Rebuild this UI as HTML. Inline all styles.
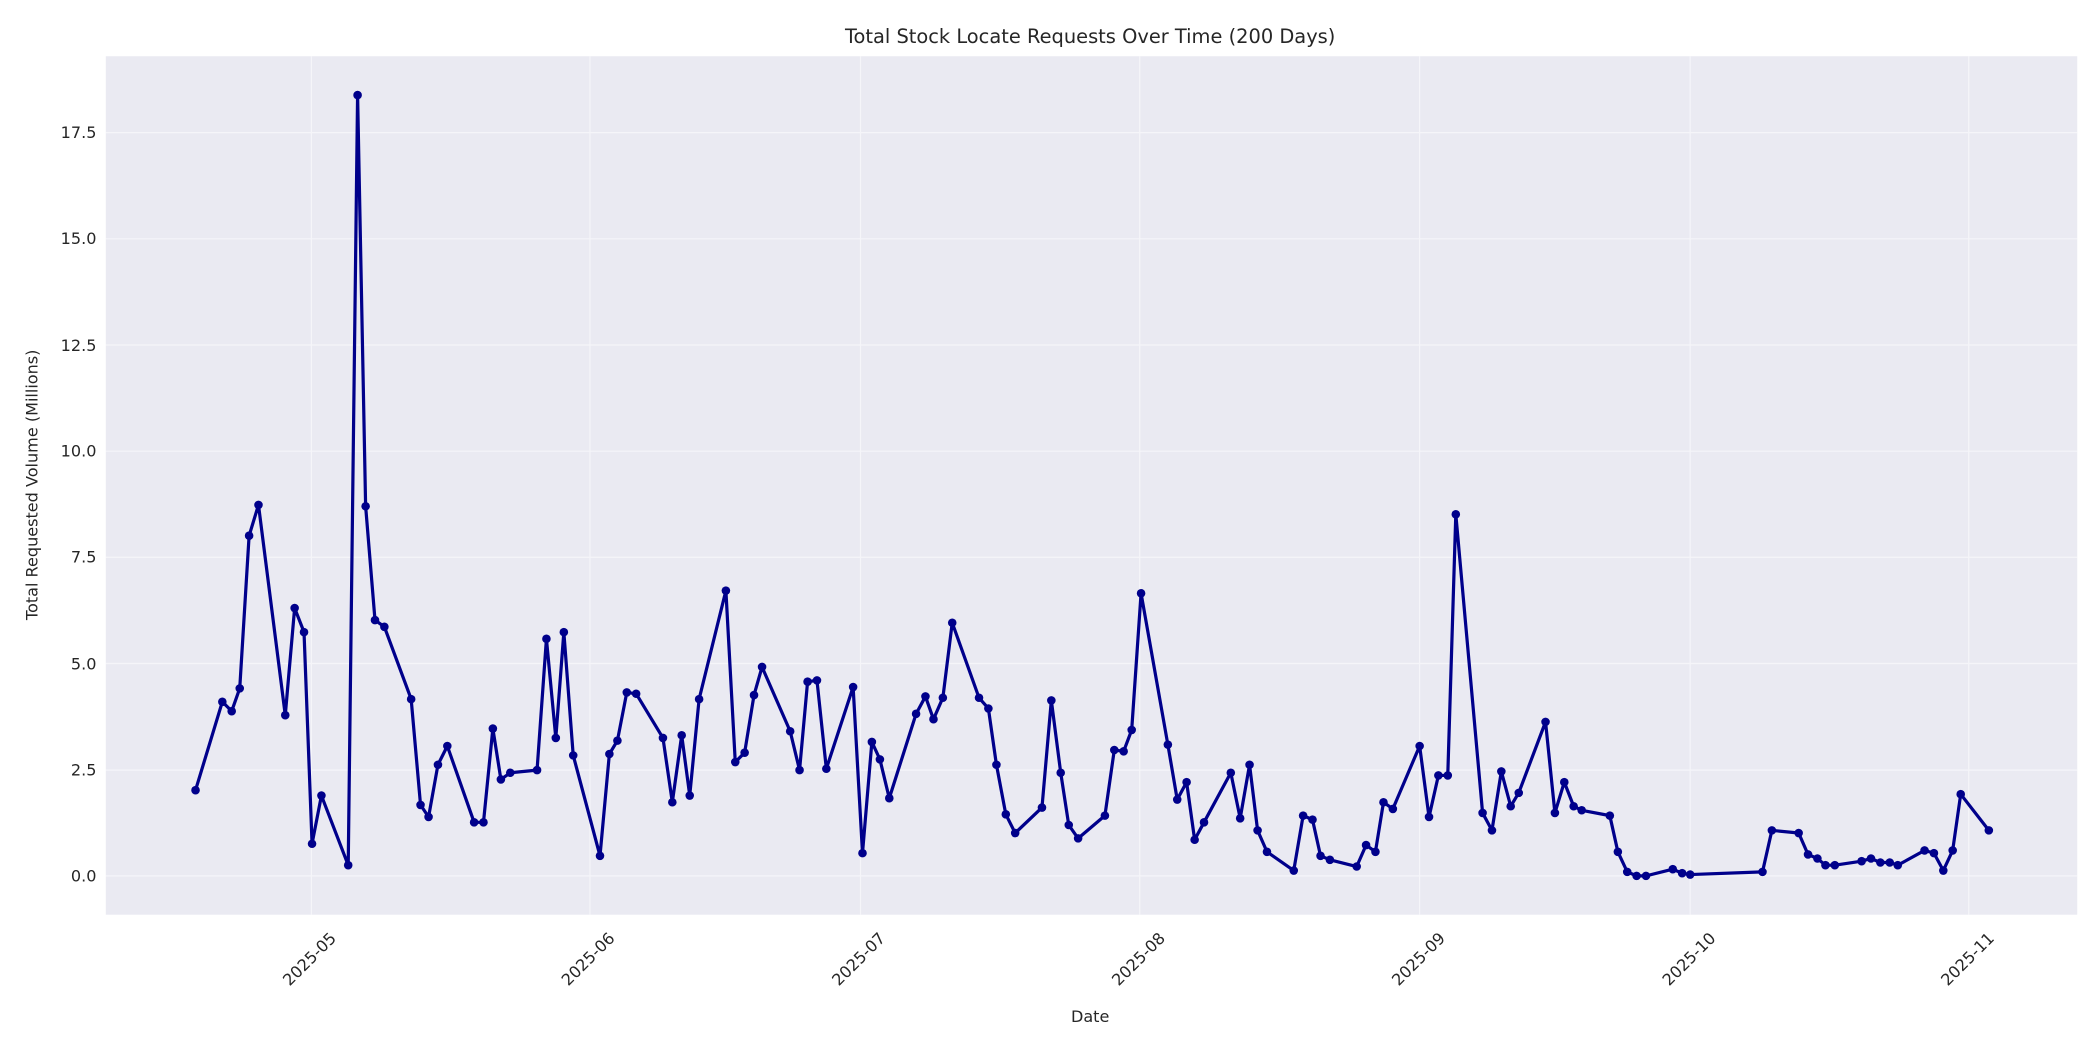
<!DOCTYPE html>
<html><head><meta charset="utf-8"><style>html,body{margin:0;padding:0;background:#fff}svg{display:block}</style></head>
<body>
<svg width="2100" height="1050" viewBox="0 0 1568 784" xmlns="http://www.w3.org/2000/svg" font-family="DejaVu Sans, Liberation Sans, sans-serif">
<rect width="1568" height="784" fill="#fff"/>
<rect x="79" y="42" width="1472" height="641" fill="#EAEAF2"/>
<g stroke="#fff" stroke-width="0.9" opacity="0.55">
<line x1="79" x2="1551" y1="654" y2="654"/><line x1="79" x2="1551" y1="575" y2="575"/><line x1="79" x2="1551" y1="495.4" y2="495.4"/><line x1="79" x2="1551" y1="416.1" y2="416.1"/><line x1="79" x2="1551" y1="336.9" y2="336.9"/><line x1="79" x2="1551" y1="257.6" y2="257.6"/><line x1="79" x2="1551" y1="178.3" y2="178.3"/><line x1="79" x2="1551" y1="99" y2="99"/>
<line y1="42" y2="683" x1="232.5" x2="232.5"/><line y1="42" y2="683" x1="440.5" x2="440.5"/><line y1="42" y2="683" x1="642.5" x2="642.5"/><line y1="42" y2="683" x1="851" x2="851"/><line y1="42" y2="683" x1="1060" x2="1060"/><line y1="42" y2="683" x1="1262" x2="1262"/><line y1="42" y2="683" x1="1470" x2="1470"/>
</g>
<g font-size="12" fill="#262626" text-anchor="end">
<text x="72" y="658">0.0</text><text x="72" y="579">2.5</text><text x="72" y="500">5.0</text><text x="72" y="420">7.5</text><text x="72" y="341">10.0</text><text x="72" y="262">12.5</text><text x="72" y="182">15.0</text><text x="72" y="103">17.5</text>
</g>
<g font-size="12" fill="#262626" text-anchor="middle">
<text transform="translate(234,719) rotate(-45)">2025-05</text>
<text transform="translate(442,719) rotate(-45)">2025-06</text>
<text transform="translate(644,719) rotate(-45)">2025-07</text>
<text transform="translate(853,719) rotate(-45)">2025-08</text>
<text transform="translate(1062,719) rotate(-45)">2025-09</text>
<text transform="translate(1264,719) rotate(-45)">2025-10</text>
<text transform="translate(1472,719) rotate(-45)">2025-11</text>
<text x="814" y="763">Date</text>
<text transform="translate(28,362) rotate(-90)">Total Requested Volume (Millions)</text>
<text x="814" y="32" font-size="14.5">Total Stock Locate Requests Over Time (200 Days)</text>
</g>
<polyline fill="none" stroke="#00008B" stroke-width="2.4" stroke-linejoin="round" points="146,590 166,524 173,531 179,514 186,400 193,377 213,534 220,454 227,472 233,630 240,594 260,646 267,71 273,378 280,463 287,468 307,522 314,601 320,610 327,571 334,557 354,614 361,614 368,544 374,582 381,577 401,575 408,477 415,551 421,472 428,564 448,639 455,563 461,553 468,517 475,518 495,551 502,599 509,549 515,594 522,522 542,441 549,569 556,562 563,519 569,498 590,546 597,575 603,509 610,508 617,574 637,513 644,637 651,554 657,567 664,596 684,533 691,520 697,537 704,521 711,465 731,521 738,529 744,571 751,608 758,622 778,603 785,523 792,577 798,616 805,626 825,609 832,560 839,561 845,545 852,443 872,556 879,597 886,584 892,627 899,614 919,577 926,611 933,571 939,620 946,636 966,650 973,609 980,612 986,639 993,642 1013,647 1020,631 1027,636 1033,599 1040,604 1060,557 1067,610 1074,579 1081,579 1087,384 1107,607 1114,620 1121,576 1128,602 1134,592 1154,539 1161,607 1168,584 1175,602 1181,605 1202,609 1208,636 1215,651 1222,654 1229,654 1249,649 1256,652 1262,653 1316,651 1323,620 1343,622 1350,638 1357,641 1363,646 1370,646 1390,643 1397,641 1404,644 1411,644 1417,646 1437,635 1444,637 1451,650 1458,635 1464,593 1485,620"/>
<g fill="#00008B" id="m"></g>
<script>
(function(){var p="146,590 166,524 173,531 179,514 186,400 193,377 213,534 220,454 227,472 233,630 240,594 260,646 267,71 273,378 280,463 287,468 307,522 314,601 320,610 327,571 334,557 354,614 361,614 368,544 374,582 381,577 401,575 408,477 415,551 421,472 428,564 448,639 455,563 461,553 468,517 475,518 495,551 502,599 509,549 515,594 522,522 542,441 549,569 556,562 563,519 569,498 590,546 597,575 603,509 610,508 617,574 637,513 644,637 651,554 657,567 664,596 684,533 691,520 697,537 704,521 711,465 731,521 738,529 744,571 751,608 758,622 778,603 785,523 792,577 798,616 805,626 825,609 832,560 839,561 845,545 852,443 872,556 879,597 886,584 892,627 899,614 919,577 926,611 933,571 939,620 946,636 966,650 973,609 980,612 986,639 993,642 1013,647 1020,631 1027,636 1033,599 1040,604 1060,557 1067,610 1074,579 1081,579 1087,384 1107,607 1114,620 1121,576 1128,602 1134,592 1154,539 1161,607 1168,584 1175,602 1181,605 1202,609 1208,636 1215,651 1222,654 1229,654 1249,649 1256,652 1262,653 1316,651 1323,620 1343,622 1350,638 1357,641 1363,646 1370,646 1390,643 1397,641 1404,644 1411,644 1417,646 1437,635 1444,637 1451,650 1458,635 1464,593 1485,620".split(" ");var g=document.getElementById("m"),ns="http://www.w3.org/2000/svg";p.forEach(function(s){var a=s.split(","),c=document.createElementNS(ns,"circle");c.setAttribute("cx",a[0]);c.setAttribute("cy",a[1]);c.setAttribute("r","3.2");g.appendChild(c);});})();
</script>
</svg>
</body></html>
